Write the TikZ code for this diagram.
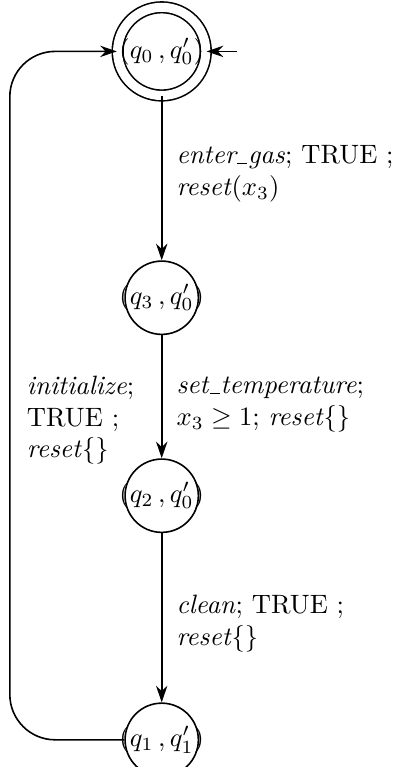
\documentclass[tikz,border=0pt]{standalone}
\usepackage{amsmath, amssymb}
\usepackage{tikz}
\usetikzlibrary{positioning,arrows.meta}
\newcommand{\us}{\kern0.04em\rule[-0.05ex]{0.38em}{0.45pt}\kern0.04em}
\tikzset{
  flowarrow/.style={-{Stealth[length=2.2mm, width=1.5mm]}, semithick},
  locstate/.style={draw, circle, semithick, inner sep=0pt, minimum size=0.97cm},
  startstate/.style={draw, circle, semithick, inner sep=0pt, double, double distance=0.12cm},
  relabel/.style={anchor=west, align=left, inner sep=0pt}
}
\begin{document}
\begin{tikzpicture}[>=Stealth]
  \useasboundingbox (0,0) rectangle (5.24,-10.15);
  \node[startstate] (q0) at (2.14,-0.68) {$(q_0\,,q_0')$};
  \node[locstate, label=center:{$(q_3\,,q_0')$}] (q3) at (2.14,-3.94) {};
  \node[locstate, label=center:{$(q_2\,,q_0')$}] (q2) at (2.14,-6.56) {};
  \node[locstate, label=center:{$(q_1\,,q_1')$}] (q1) at (2.14,-9.79) {};
  \coordinate (init) at (3.14,-0.68);
  \coordinate (loop) at (0.13,-5);
  \draw[flowarrow] (init) -- (q0);
  \draw[flowarrow] (q0) -- (q3);
  \draw[flowarrow] (q3) -- (q2);
  \draw[flowarrow] (q2) -- (q1);
  \draw[flowarrow, rounded corners=0.6cm] (q1.west) -- (loop |- q1.west) -- (loop |- q0.west) -- (q0.west);
  \node[relabel] (lab03) at (2.33,-2.3) {\textit{enter\us gas}; TRUE ;\\ \textit{reset}$(x_3)$};
  \node[relabel] (lab32) at (2.33,-5.35) {\textit{set\us temperature};\\ $x_3\geq 1$; \textit{reset}$\{\}$};
  \node[relabel] (lab21) at (2.33,-8.25) {\textit{clean}; TRUE ;\\ \textit{reset}$\{\}$};
  \node[relabel] (lab10) at (0.35,-5.56) {\textit{initialize};\\ TRUE ;\\ \textit{reset}$\{\}$};
\end{tikzpicture}
\end{document}
